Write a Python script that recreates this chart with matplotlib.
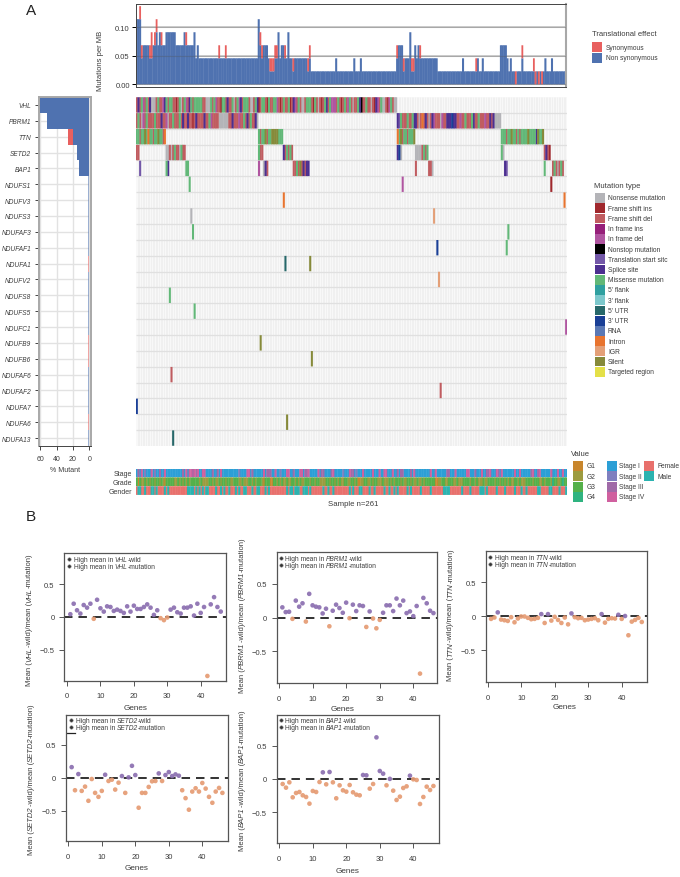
import numpy as np
import matplotlib
matplotlib.use("Agg")
import matplotlib.pyplot as plt
from matplotlib.patches import Rectangle

plt.rcParams['font.family'] = ['Liberation Sans', 'DejaVu Sans']

W, H = 680, 878
TXT = '#3c3c3c'
BLUE = '#4f72b0'
RED = '#e8605f'

# -----------------------------
# Data: tumour mutation burden (mutation counts per sample)
# -----------------------------
MB_UNIT = 1 / 44
nonsyn_counts = list(map(int, (
    "5552333322 3343433344 4444333334 3333342322 2222222222 2222222222 "
    "2222222222 2222532333 2111224233 2242212222 2222121111 1111111111 "
    "1211111111 1121112111 1111111111 1111111123 3312224113 2322222222 "
    "2221111111 1111111121 1111111211 2111111111 1333321211 0111211111 "
    "1101010121 1121111111 1").replace(" ", "")))
syn_samples = [2, 3, 8, 9, 11, 12, 15, 30, 50, 54, 75, 76, 81, 82, 83, 84, 85, 90, 95,
               104, 105, 158, 162, 167, 168, 172, 206, 230, 234, 241, 242, 244, 246]
syn_counts = [1, 1, 1, 2, 1, 1, 1, 1, 1, 1, 1, 1, 1, 1, 1, 1, 1, 1, 1,
              1, 1, 1, 1, 1, 1, 1, 1, 1, 1, 1, 1, 1, 1]

genes = ['VHL', 'PBRM1', 'TTN', 'SETD2', 'BAP1', 'NDUFS1', 'NDUFV3', 'NDUFS3', 'NDUFAF3',
         'NDUFAF1', 'NDUFA1', 'NDUFV2', 'NDUFS8', 'NDUFS5', 'NDUFC1', 'NDUFB9', 'NDUFB6',
         'NDUFAF6', 'NDUFAF2', 'NDUFA7', 'NDUFA6', 'NDUFA13']
pct_nonsyn = [60, 52, 20, 15, 12.3, 1.2, 1.2, 1.2, 1.2, 1.2, 0.2, 1.2, 1.2, 1.2, 1.2, 0.2, 0.2,
              1.2, 1.2, 1.2, 0.2, 1.2]
pct_syn = [0, 0, 6.6, 0, 0.4, 0, 0, 0, 0, 0, 1.2, 0, 0, 0, 0, 1.2, 1.2, 0, 0, 0, 1.2, 0]

mutation_types = ['Nonsense mutation', 'Frame shift ins', 'Frame shift del', 'In frame ins',
                  'In frame del', 'Nonstop mutation', 'Translation start sitc', 'Splice site',
                  'Missense mutation', "5' flank", "3' flank", "5' UTR", "3' UTR", 'RNA',
                  'Intron', 'IGR', 'Silent', 'Targeted region']
mutation_codes = 'NIFJDXTPM53UVROGSL'
mutation_colors = ['#b4b4b8', '#a0282d', '#c05c60', '#96207a', '#b055a0', '#000000', '#7358a8',
                   '#4c2f90', '#62b878', '#2fa0a0', '#7cc8cc', '#27686a', '#1a3f96', '#5a78b4',
                   '#e8742f', '#e4a078', '#868a3a', '#e4e048']

# one entry per gene: (first sample, mutation code per sample)
onco_rows = {
    'VHL': [(0, "FPFMDFMFPN NNFMFFDPMF MMFFIFMNFM DFPMFMMMMM FFNNNMFMDF FIMMFPFFMN "
                "FMDPFMMMFN NFMPIFMMFI MFFMMDFIFM FFMIFPDFMF NNFMMMFIMF NFIFMPFMDD "
                "DFMFIFMFDM FNFFMPXFFM FFNFIPDFMN NFIDMFNN")],
    'PBRM1': [(0, "FMFNDFMFFF FMFFFPFFDN FFMFFFMFPF FPFFIFPFFF FPFFMDFFFF NNNNNNFFPF FFDFFMFPFM FFPN"),
              (158, "PTMFFFMFFM PPFNFOFPFN FPDFFFNDFF PPPVPPFFDF FMFFFMPFFM FFFDFFPFPN NNN")],
    'TTN': [(0, "MMFMMSMOMMFMMSMMFO"), (74, "MFMMSFMMSSSSMMM"), (158, "OMSFMMFMMMS"),
            (221, "MMMFMMSMMFMFMMMMSMMMMPSMMS")],
    'SETD2': [(0, "FF"), (18, "NNFNFMFFNMFF"), (74, "MFF"), (89, "PFMFMF"), (158, "PVN"),
              (169, "NNNNFMFM"), (221, "MN"), (247, "FPFI")],
    'BAP1': [(2, "T"), (18, "MP"), (30, "MM"), (74, "D"), (77, "NPF"), (95, "FFMFSFPFPP"),
             (169, "F"), (177, "FFN"), (223, "PT"), (247, "M"), (252, "FMFNFMF")],
    'NDUFS1': [(32, "M"), (161, "D"), (251, "I")],
    'NDUFV3': [(89, "O"), (259, "O")],
    'NDUFS3': [(33, "N"), (180, "G")],
    'NDUFAF3': [(34, "M"), (225, "M")],
    'NDUFAF1': [(182, "V"), (224, "M")],
    'NDUFA1': [(90, "U"), (105, "S")],
    'NDUFV2': [(183, "G")],
    'NDUFS8': [(20, "M")],
    'NDUFS5': [(35, "M")],
    'NDUFC1': [(260, "D")],
    'NDUFB9': [(75, "S")],
    'NDUFB6': [(106, "S")],
    'NDUFAF6': [(21, "F")],
    'NDUFAF2': [(184, "F")],
    'NDUFA7': [(0, "V")],
    'NDUFA6': [(91, "S")],
    'NDUFA13': [(22, "U")],
}

# clinical annotation, one code per sample
stage_seq = ("1314121114 1211311411 1111111131 4144343411 4411113113 1411111111 1121111441 "
             "3111111413 3311411211 1441131114 4133411111 4133111134 1111121114 3312111411 "
             "1114111411 4411141131 3311113141 1111111141 1411111133 1114111111 4411131114 "
             "1133411143 1411111114 1141111113 4113411111 1411141141 1")
grade_seq = ("3132232323 3233232133 3332232323 2323333323 2222332322 3233233223 3322322233 "
             "2323332133 3113323232 2322332323 2233323323 3222233233 2323223322 3323112233 "
             "2232332223 2223232333 2322332322 3223233333 3112233223 3322322233 3323323222 "
             "3223333233 2332323223 3232223333 2333223233 3243322343 3")
gender_seq = ("FMMFFMFFFM MFMFFFFMFM FFFFFFFFFF FMMMMFMFMF MFMMFFFFMF FMFMFFMFFF MFMFFMMFFF "
              "MFFMMFFFMF MFFFFFFFFF FMFMMFMMMF FMMMFMFFFF FFFMFFMFFM FFFFFFFFFM FMFFFMMFFF "
              "FMFFMFFFFF MFFMFFMFMF FFFFMFMFFF FFMFFFFFMF FFFFFFMMMM FFFFFFFMFF FFMFFFFFMM "
              "MFMFFFFFMF FFFMFFFFFM FFFMFFMFFF FFFMMFFFFF MMFFFFMFFF M")
grade_labels = ['G1', 'G2', 'G3', 'G4']
grade_colors = ['#c8862d', '#9c9b3f', '#55b04a', '#2fb380']
stage_labels = ['Stage I', 'Stage II', 'Stage III', 'Stage IV']
stage_colors = ['#2c9fd6', '#7f7fbf', '#a06aa8', '#d0609f']
gender_labels = ['Female', 'Male']
gender_colors = ['#e8706c', '#2cb3b0']

# -----------------------------
# Data: panel B, mean ratio for genes 1..46
# -----------------------------
gene_idx = list(range(1, 47))
vhl_ratio = [.04, .20, .10, .05, .18, .14, .20, -.03, .26, .13, .08, .16, .15, .09, .11, .09,
             .06, .16, .08, .17, .12, .12, .15, .19, .14, .03, .10, -.02, -.05, -.01, .11, .14,
             .07, .05, .14, .14, .16, .02, .20, .06, .15, -.90, .19, .30, .15, .08]
pbrm1_ratio = [.15, .08, .085, -.02, .25, .16, .21, -.06, .35, .18, .16, .15, .06, .13, -.13, .10,
               .19, .14, .07, .22, -.01, .19, .095, .18, .17, -.14, .09, -.015, -.16, -.035, .07,
               .18, .18, .095, .28, .18, .25, .065, .09, .02, .17, -.83, .29, .21, .10, .065]
ttn_ratio = [-.04, -.02, .055, -.05, -.06, -.07, -.015, -.09, -.035, -.005, -.005, -.025, -.045,
             -.04, -.025, .03, -.10, .03, -.065, -.01, -.055, -.10, -.02, -.12, .04, -.015, -.03,
             -.025, -.06, -.05, -.04, -.03, -.06, .03, -.095, -.04, -.03, -.035, .02, -.04, .002,
             -.28, -.08, -.055, -.025, -.085]
setd2_ratio = [.16, -.19, .055, -.20, -.135, -.35, -.02, -.23, -.29, -.20, .045, -.05, -.03, -.18,
               -.075, .025, -.23, .005, .18, .04, -.455, -.23, -.23, -.14, -.055, -.05, .065,
               -.05, .04, .085, .025, .05, .03, -.19, -.31, -.485, -.21, -.16, -.21, -.08, -.165,
               -.29, -.38, -.21, -.155, -.23]
bap1_ratio = [-.075, -.13, -.05, -.275, -.21, -.195, -.245, -.27, -.37, -.18, -.195, -.045, .10,
              -.08, .105, -.05, -.29, -.095, -.17, -.19, -.09, -.20, -.235, -.245, .06, .055,
              -.145, -.075, .625, .12, .08, -.095, .002, -.175, -.315, -.265, -.135, -.11, .05,
              -.005, -.015, -.375, -.27, -.115, -.165, -.105]
HIGH_WILD = '#8b6fb0'
HIGH_MUT = '#e59b73'

fig = plt.figure(figsize=(W / 100, H / 100), dpi=100)


def ax_px(left, top, right, bottom):
    return fig.add_axes([left / W, 1 - bottom / H, (right - left) / W, (bottom - top) / H])


# overlay in pixel coordinates for legends and free labels
over = fig.add_axes([0, 0, 1, 1])
over.set_xlim(0, W)
over.set_ylim(H, 0)
over.axis('off')
over.set_zorder(10)
renderer = fig.canvas.get_renderer()


def text_width(s, size, style):
    # the bar keeps trailing spaces in the measure
    a = over.text(0, 0, s + '|', fontsize=size, style=style)
    b = over.text(0, 0, '|', fontsize=size, style=style)
    w = a.get_window_extent(renderer).width - b.get_window_extent(renderer).width
    a.remove()
    b.remove()
    return w


def rich_text(x, y, parts, size, vertical=False):
    # plain and italic pieces on one baseline, x/y = start for horizontal, centre for vertical
    widths = [text_width(s, size, st) for s, st in parts]
    pos = y + sum(widths) / 2 if vertical else x
    for (s, st), w in zip(parts, widths):
        if vertical:
            over.text(x, pos, s, fontsize=size, style=st, color=TXT, rotation=90,
                      rotation_mode='anchor', ha='left', va='baseline')
            pos -= w
        else:
            over.text(pos, y, s, fontsize=size, style=st, color=TXT, ha='left', va='baseline')
            pos += w


def swatches(x, y0, step, colors, labels, text_x, size=4.8, w=10.2, h=9.8):
    for i, (c, lab) in enumerate(zip(colors, labels)):
        y = y0 + i * step
        over.add_patch(Rectangle((x, y - h / 2), w, h, color=c, lw=0))
        over.text(text_x, y, lab, fontsize=size, color=TXT, va='center', ha='left')


def no_snap(bars):
    for p in bars:
        p.set_snap(False)


# ========== PANEL A: TOP BARS ==========
samples = np.arange(len(nonsyn_counts))
nonsyn = np.array(nonsyn_counts) * MB_UNIT
syn = np.zeros(len(samples))
syn[syn_samples] = np.array(syn_counts) * MB_UNIT

ax = ax_px(136, 4.5, 566, 88)
for v in [0, 0.05, 0.10]:
    ax.axhline(v, color='#c8c8c8', lw=1.3, zorder=1)
    ax.axhline(v, color='#555555', lw=0.8, alpha=0.3, zorder=4)
no_snap(ax.bar(samples, nonsyn, width=1.25, color=BLUE, lw=0, zorder=2))
no_snap(ax.bar(samples, syn, width=1.1, bottom=nonsyn, color=RED, lw=0, zorder=3))
ax.set_xlim(-0.5, 260.5)
ax.set_ylim(-0.0046, 0.141)
ax.set_xticks([])
ax.set_yticks([0, 0.05, 0.10], ['0.00', '0.05', '0.10'])
ax.tick_params(axis='y', labelsize=5.5, labelcolor=TXT, length=3, width=0.7, pad=1.5)
for s in ['top', 'left', 'bottom']:
    ax.spines[s].set_color('#444444')
    ax.spines[s].set_linewidth(0.7)
ax.spines['right'].set_color('#a8a8a8')
ax.spines['right'].set_linewidth(1.5)
over.text(100, 61, 'Mutations per MB', rotation=90, fontsize=5.5, color=TXT, ha='center', va='center')

over.text(592, 35, 'Translational effect', fontsize=5.5, color=TXT, va='center')
swatches(592, 48, 11, [RED, BLUE], ['Synonymous', 'Non synonymous'], 606)

# ========== PANEL A: % MUTANT ==========
rows = np.arange(len(genes))
ax = ax_px(38.7, 98, 91, 447)
ax.set_axisbelow(True)
ax.grid(True, color='#e2e2e2', lw=1)
for r, a, b in zip(rows, pct_nonsyn, pct_syn):
    alpha = 0.55 if a + b < 2 else 1
    ax.barh(r, a, height=1, color=BLUE, lw=0, alpha=alpha, zorder=2)
    ax.barh(r, b, height=1, left=a, color=RED, lw=0, alpha=alpha, zorder=2)
ax.set_xlim(62, -2)
ax.set_ylim(len(genes) - 0.5, -0.5)
ax.set_xticks([60, 40, 20, 0], ['60', '40', '20', '0'])
ax.set_yticks(rows, genes, style='italic')
ax.tick_params(axis='both', length=3.2, width=0.7, color='#444444')
ax.tick_params(axis='y', labelsize=4.7, labelcolor=TXT, pad=2.3)
ax.tick_params(axis='x', labelsize=5, labelcolor=TXT, pad=3)
for s in ['top', 'left', 'right']:
    ax.spines[s].set_color('#a8a8a8')
    ax.spines[s].set_linewidth(1.4)
ax.spines['bottom'].set_color('#444444')
ax.spines['bottom'].set_linewidth(0.7)
over.text(65, 470.7, '% Mutant', fontsize=5, color=TXT, ha='center', va='center')

# ========== PANEL A: ONCOPLOT ==========
ax = ax_px(136, 98, 567, 447)
ax.set_facecolor('#f8f8f8')
ax.vlines(samples[:-1] + 0.5, -0.5, len(genes) - 0.5, color='#ececec', lw=0.45, zorder=1)
ax.hlines(rows[:-1] + 0.5, -0.5, 260.5, color='#e0e0e0', lw=0.9, zorder=1)
for code, color in zip(mutation_codes, mutation_colors):
    xs, ys = [], []
    for row, gene in enumerate(genes):
        for start, seq in onco_rows[gene]:
            for k, ch in enumerate(seq.replace(" ", "")):
                if ch == code:
                    xs.append(start + k)
                    ys.append(row)
    if xs:
        no_snap(ax.bar(xs, 0.97, width=1.25, bottom=np.array(ys) - 0.485, color=color, lw=0, zorder=2))
ax.set_xlim(-0.5, 260.5)
ax.set_ylim(len(genes) - 0.5, -0.5)
ax.set_xticks([])
ax.set_yticks([])
for s in ax.spines.values():
    s.set_visible(False)

over.text(594, 186, 'Mutation type', fontsize=5.5, color=TXT, va='center')
swatches(595, 199, 10.22, mutation_colors, mutation_types, 608)

# ========== PANEL A: CLINICAL TRACKS ==========
ax = ax_px(136, 469.5, 567, 496)
tracks = [(stage_seq, '1234', stage_colors), (grade_seq, '1234', grade_colors),
          (gender_seq, 'FM', gender_colors)]
for row, (seq, codes, colors) in enumerate(tracks):
    seq = seq.replace(" ", "")
    for code, color in zip(codes, colors):
        xs = [i for i, ch in enumerate(seq) if ch == code]
        if xs:
            no_snap(ax.bar(xs, 0.98, width=1.25, bottom=row - 0.49, color=color, lw=0))
ax.set_xlim(-0.5, 260.5)
ax.set_ylim(2.5, -0.5)
ax.set_xticks([])
ax.set_yticks([0, 1, 2], ['Stage', 'Grade', 'Gender'])
ax.tick_params(axis='y', length=0, labelsize=5, labelcolor=TXT, pad=2.5)
for s in ax.spines.values():
    s.set_visible(False)
over.text(353, 504.5, 'Sample n=261', fontsize=5.6, color=TXT, ha='center', va='center')

over.text(571, 455, 'Value', fontsize=5.5, color=TXT, va='center')
swatches(573, 467, 10.3, grade_colors, grade_labels, 587)
swatches(607, 467, 10.3, stage_colors, stage_labels, 619)
swatches(644, 467, 10.3, gender_colors, gender_labels, 657)

over.text(26, 11, 'A', fontsize=11, color='#222222', va='center')
over.text(26, 517.5, 'B', fontsize=11, color='#222222', va='center')

# ========== PANEL B ==========
panels = [
    # gene, values, box (l, t, r, b), x0/x40 px, y+.5/y-.5 px, ylabel x, ylabel y, genes xy, legend (marker x, text x, y1, y2)
    ('VHL', vhl_ratio, (64.3, 554.3, 226.3, 681.7), (67, 200.7), (585, 650.7), 31, 620, (136, 708.7), (69, 73.7, 560.3, 566.7)),
    ('PBRM1', pbrm1_ratio, (276.7, 552.7, 437.3, 684), (279, 413.3), (584.7, 652.3), 244, 615, (343, 710), (281, 285, 559.3, 566)),
    ('TTN', ttn_ratio, (485.7, 552.3, 647.3, 683), (487.7, 621.7), (583, 651.3), 452.5, 615, (565, 708), (490.3, 494.7, 558, 564.7)),
    ('SETD2', setd2_ratio, (66, 715.7, 228, 842.3), (68.3, 202.3), (745.7, 811.7), 33, 779, (137, 869), (70.7, 75.7, 721.3, 727.7)),
    ('BAP1', bap1_ratio, (276.7, 715.7, 438.7, 844.3), (279.3, 413.3), (746.7, 813.3), 244, 780, (348, 871.7), (281.3, 285, 721.3, 728.3)),
]
for gene, values, box, xcal, ycal, ylab_x, ylab_y, genes_xy, leg in panels:
    l, t, r, b = box
    ax = ax_px(l, t, r, b)
    ax.axhline(0, color='#222222', lw=1.3, dashes=(4.7, 3.3), zorder=1)
    vals = np.array(values)
    colors = [HIGH_WILD if v > 0 else HIGH_MUT for v in vals]
    ax.scatter(gene_idx, vals, s=11, c=colors, lw=0, alpha=0.92, zorder=2)
    ax.set_xlim((l - xcal[0]) * 40 / (xcal[1] - xcal[0]), (r - xcal[0]) * 40 / (xcal[1] - xcal[0]))
    y_mid = (ycal[0] + ycal[1]) / 2
    y_scale = (ycal[1] - ycal[0])
    ax.set_ylim((y_mid - b) / y_scale, (y_mid - t) / y_scale)
    ax.set_xticks([0, 10, 20, 30, 40], ['0', '10', '20', '30', '40'])
    ax.set_yticks([-0.5, 0, 0.5], ['\u22120.5', '0', '0.5'])
    ax.tick_params(axis='both', labelsize=5.5, labelcolor=TXT, length=3.4, width=0.7, color='#555555')
    ax.tick_params(axis='x', pad=5)
    ax.tick_params(axis='y', pad=3.6)
    for s in ax.spines.values():
        s.set_color('#555555')
        s.set_linewidth(0.9)
    if gene == 'SETD2':
        ax.plot([ax.get_xlim()[0], 1.9], [0.68, 0.68], color='#222222', lw=0.9)
    rich_text(ylab_x, ylab_y, [('Mean (', 'normal'), (gene, 'italic'), ('-wild)/mean (', 'normal'),
                               (gene, 'italic'), ('-mutation)', 'normal')], 5.5, vertical=True)
    over.text(genes_xy[0], genes_xy[1], 'Genes', fontsize=5.9, color=TXT, ha='center', va='center')
    mx, tx, y1, y2 = leg
    for y, label in zip((y1, y2), ('wild', 'mutation')):
        over.plot([mx], [y], 'o', ms=2.4, mfc='#333333', mec='#777777', mew=0.4)
        rich_text(tx, y + 2.2, [('High mean in ', 'normal'), (gene, 'italic'), (f'-{label}', 'normal')], 4.8)

fig.savefig('out.png', dpi=100, facecolor='white')
